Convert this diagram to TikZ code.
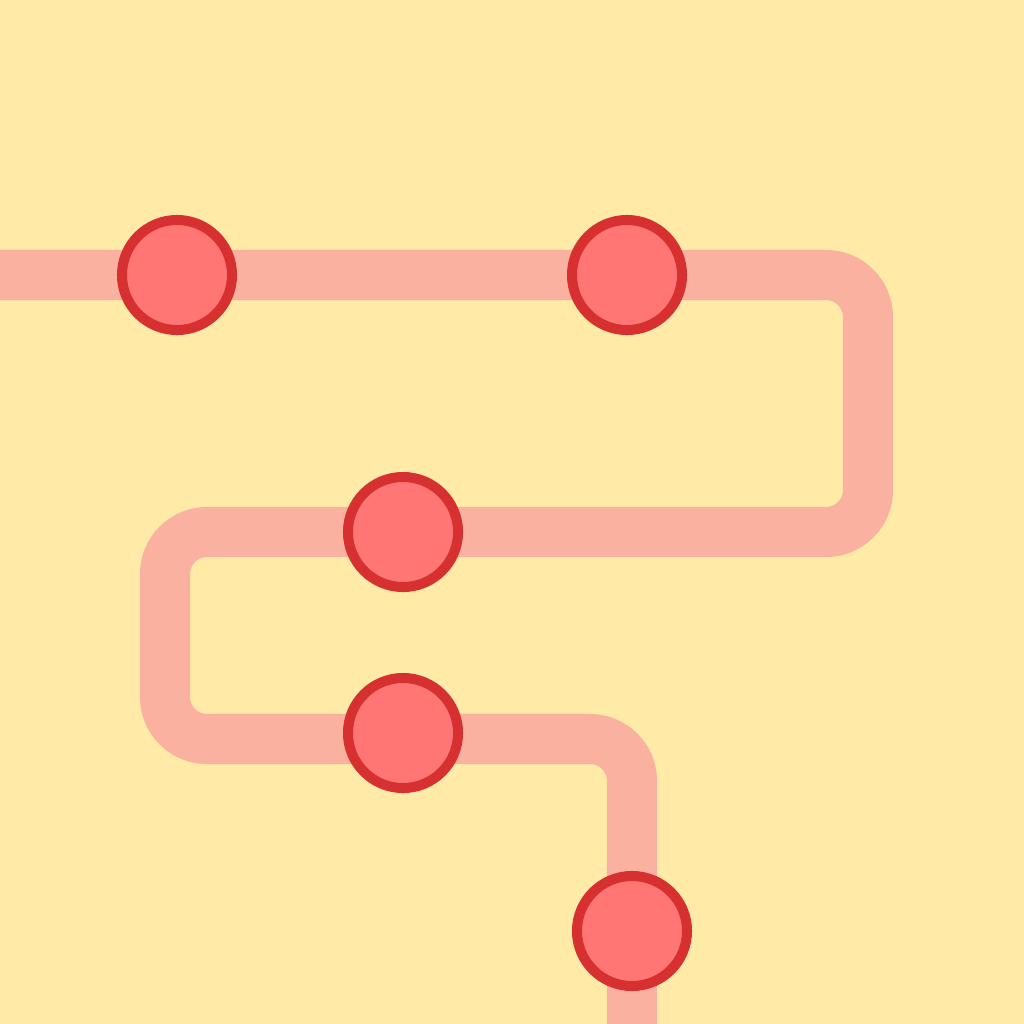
\documentclass[tikz,border=0pt]{standalone}
\usepackage{tikz}
\usepackage{xcolor}
\definecolor{lemon}{HTML}{FFEAA7}
\definecolor{trackpink}{HTML}{FAB1A0}
\definecolor{stopfill}{HTML}{FF7675}
\definecolor{stopline}{HTML}{D63031}
\tikzset{
  track/.style={line width=0.5cm, trackpink, rounded corners=0.42cm},
  stop/.style={circle, draw=stopline, fill=stopfill, line width=0.1cm,
    minimum size=1.1cm, inner sep=0pt}
}
\begin{document}
\begin{tikzpicture}[x=0.01cm, y=-0.01cm]
  \useasboundingbox (0,0) rectangle (1024,1024);
  \clip (0,0) rectangle (1024,1024);
  \fill[lemon] (0,0) rectangle (1024,1024);
  % Knickpunkte der Strecke
  \coordinate (in) at (0,275);
  \coordinate (k1) at (868,275);
  \coordinate (k2) at (868,532);
  \coordinate (k3) at (165,532);
  \coordinate (k4) at (165,739);
  \coordinate (k5) at (632,739);
  \coordinate (out) at (632,1024);
  \draw[track] (in) -- (k1) -- (k2) -- (k3) -- (k4) -- (k5) -- (out);
  % Haltestellen
  \node[stop] (s1) at (177,275) {};
  \node[stop] (s2) at (627,275) {};
  \node[stop] (s3) at (403,532) {};
  \node[stop] (s4) at (403,733) {};
  \node[stop] (s5) at (632,931) {};
\end{tikzpicture}
\end{document}
